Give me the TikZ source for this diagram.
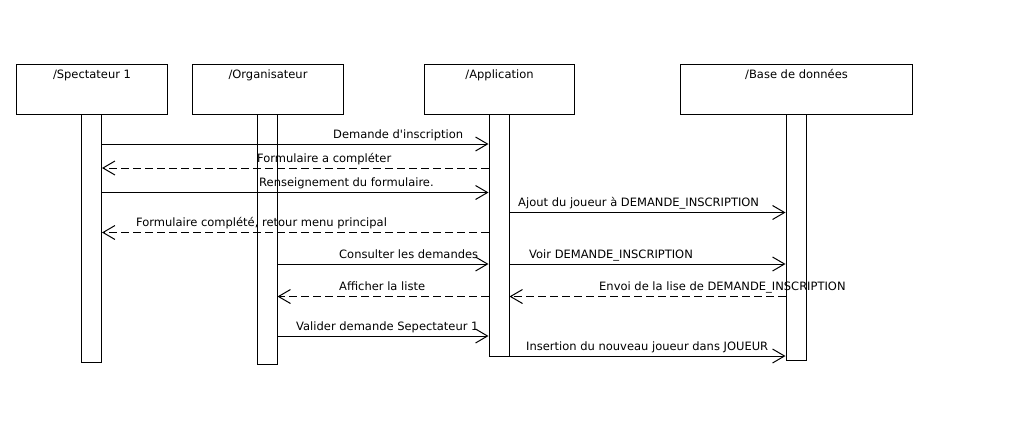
\documentclass[tikz,border=0pt]{standalone}
\usepackage{fontspec}
\newfontfamily\umlfont{DejaVu Sans}
\usetikzlibrary{arrows.meta}

\tikzset{
    lifebox/.style={draw, line width=1pt, anchor=north west, inner sep=0pt, minimum height=50pt},
    bar/.style={draw, line width=1pt, anchor=north, inner sep=0pt, minimum width=20pt},
    msg/.style={line width=1pt, -{Straight Barb[length=12pt, width=14pt, line width=1pt]}},
    reply/.style={msg, dash pattern=on 8pt off 4pt},
    lbl/.style={anchor=base west, inner sep=0pt},
    head/.style={anchor=base, inner sep=0pt}
}

\begin{document}
\begin{tikzpicture}[x=1pt, y=-1pt, font=\umlfont\fontsize{11.5}{14}\selectfont]
        \useasboundingbox[fill=white] (0,0) rectangle (1024,429);

        % objets
        \node[lifebox, minimum width=151pt] (spect) at (16,64) {};
        \node[lifebox, minimum width=151pt] (orga) at (192,64) {};
        \node[lifebox, minimum width=150pt] (app) at (424,64) {};
        \node[lifebox, minimum width=232pt] (bdd) at (680,64) {};
        \node[head] at (spect.north |- 0,78) {/Spectateur 1};
        \node[head] at (orga.north |- 0,78) {/Organisateur};
        \node[head] at (app.north |- 0,78) {/Application};
        \node[head] at (bdd.north |- 0,78) {/Base de données};

        % barres d'activation
        \node[bar, minimum height=248pt] (spectbar) at (91.5,114) {};
        \node[bar, minimum height=250pt] (orgabar) at (267,114) {};
        \node[bar, minimum height=242pt] (appbar) at (499,114) {};
        \node[bar, minimum height=246pt] (bddbar) at (796,114) {};

        % messages
        \draw[msg] (spectbar.east |- 0,144) -- (appbar.west |- 0,144);
        \node[lbl] at (333,138) {Demande d'inscription};
        \draw[reply] (appbar.west |- 0,168) -- (spectbar.east |- 0,168);
        \node[lbl] at (257,162) {Formulaire a compléter};
        \draw[msg] (spectbar.east |- 0,192.5) -- (appbar.west |- 0,192.5);
        \node[lbl] at (259,186.5) {Renseignement du formulaire.};
        \draw[msg] (appbar.east |- 0,212.5) -- (bddbar.west |- 0,212.5);
        \node[lbl] at (518,206.5) {Ajout du joueur à DEMANDE\_INSCRIPTION};
        \draw[reply] (appbar.west |- 0,232.5) -- (spectbar.east |- 0,232.5);
        \node[lbl] at (136,226.5) {Formulaire complété, retour menu principal};
        \draw[msg] (orgabar.east |- 0,264) -- (appbar.west |- 0,264);
        \node[lbl] at (339,258) {Consulter les demandes};
        \draw[msg] (appbar.east |- 0,264) -- (bddbar.west |- 0,264);
        \node[lbl] at (529,258) {Voir DEMANDE\_INSCRIPTION};
        \draw[reply] (appbar.west |- 0,296.5) -- (orgabar.east |- 0,296.5);
        \node[lbl] at (339,290.5) {Afficher la liste};
        \draw[reply] (bddbar.west |- 0,296.5) -- (appbar.east |- 0,296.5);
        \node[lbl] at (599,290.5) {Envoi de la lise de DEMANDE\_INSCRIPTION};
        \draw[msg] (orgabar.east |- 0,336) -- (appbar.west |- 0,336);
        \node[lbl] at (296,330) {Valider demande Sepectateur 1};
        \draw[msg] (appbar.east |- 0,356) -- (bddbar.west |- 0,356);
        \node[lbl] at (526,350) {Insertion du nouveau joueur dans JOUEUR};
    \end{tikzpicture}
\end{document}
